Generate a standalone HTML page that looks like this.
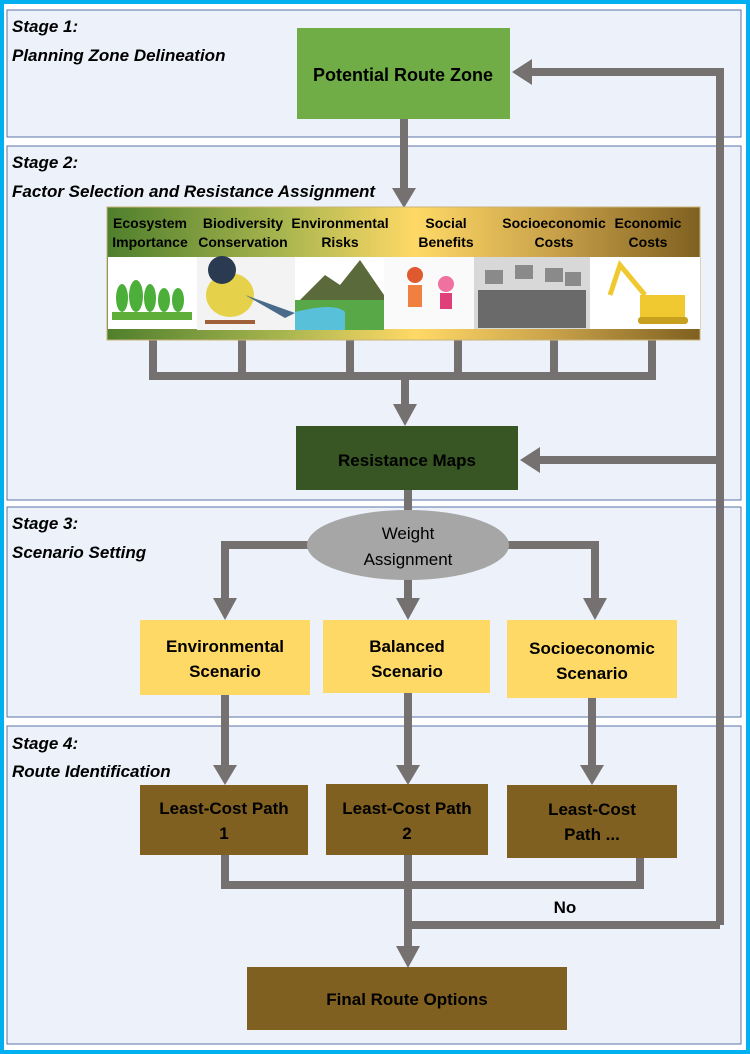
<!DOCTYPE html>
<html><head><meta charset="utf-8"><style>
html,body{margin:0;padding:0;background:#00b0f0;}
svg{display:block}
text{font-family:"Liberation Sans",sans-serif;font-weight:bold;fill:#000}
.st{font-style:italic;font-size:17px}
</style></head><body>
<svg width="750" height="1054" viewBox="0 0 750 1054" xmlns="http://www.w3.org/2000/svg">
<defs>
<linearGradient id="g" x1="0" x2="1" y1="0" y2="0">
<stop offset="0" stop-color="#4f7f2c"/><stop offset="0.3" stop-color="#a9b64f"/>
<stop offset="0.52" stop-color="#ffd966"/><stop offset="0.75" stop-color="#c9a24a"/>
<stop offset="1" stop-color="#7f6020"/></linearGradient>
</defs>
<rect x="0" y="0" width="750" height="1054" fill="#00b0f0"/>
<rect x="4" y="4" width="742" height="1046" fill="#ffffff"/>
<g fill="#edf2fa" stroke="#5a72a8" stroke-width="1">
<rect x="7" y="10" width="734" height="127"/>
<rect x="7" y="146" width="734" height="354"/>
<rect x="7" y="507" width="734" height="210"/>
<rect x="7" y="726" width="734" height="318"/>
</g>
<text class="st" x="12" y="32">Stage 1:</text>
<text class="st" x="12" y="61">Planning Zone Delineation</text>
<text class="st" x="12" y="168">Stage 2:</text>
<text class="st" x="12" y="197">Factor Selection and Resistance Assignment</text>
<text class="st" x="12" y="529">Stage 3:</text>
<text class="st" x="12" y="558">Scenario Setting</text>
<text class="st" x="12" y="749">Stage 4:</text>
<text class="st" x="12" y="777">Route Identification</text>

<g stroke="#767171" stroke-width="8" fill="none">
<path d="M404 119V190"/>
<path d="M720 925V72H530"/>
<path d="M720 460H538"/>
<path d="M153 340V376M242 340V376M350 340V376M458 340V376M554 340V376M652 340V376M149 376H656M405 376V410"/>
<path d="M408 490V512"/>
<path d="M225 610V545H595V602M408 545V602"/>
<path d="M225 695V768M408 693V768M592 698V768"/>
<path d="M225 855V885H640V857M408 855V950M408 925H720"/>
</g>
<g fill="#767171">
<path d="M392 188h24l-12 20z"/>
<path d="M512 72l20-13v26z"/>
<path d="M520 460l20-13v26z"/>
<path d="M393 404h24l-12 22z"/>
<path d="M213 598h24l-12 22z"/>
<path d="M396 598h24l-12 22z"/>
<path d="M583 598h24l-12 22z"/>
<path d="M213 765h24l-12 20z"/>
<path d="M396 765h24l-12 20z"/>
<path d="M580 765h24l-12 20z"/>
<path d="M396 946h24l-12 22z"/>
</g>

<rect x="297" y="28" width="213" height="91" fill="#70ad47"/>
<text x="403" y="81" font-size="18" text-anchor="middle">Potential Route Zone</text>

<rect x="107" y="207" width="593" height="133" fill="url(#g)" stroke="#c9b27a"/>
<g font-size="14" text-anchor="middle">
<text x="150" y="228">Ecosystem</text><text x="150" y="247">Importance</text>
<text x="243" y="228">Biodiversity</text><text x="243" y="247">Conservation</text>
<text x="340" y="228">Environmental</text><text x="340" y="247">Risks</text>
<text x="446" y="228">Social</text><text x="446" y="247">Benefits</text>
<text x="554" y="228">Socioeconomic</text><text x="554" y="247">Costs</text>
<text x="648" y="228">Economic</text><text x="648" y="247">Costs</text>
</g>
<rect x="108" y="257" width="89" height="72" fill="#fff"/>
<rect x="112" y="312" width="80" height="8" fill="#5fae3a"/>
<g fill="#4caf3a"><ellipse cx="122" cy="298" rx="6" ry="14"/><ellipse cx="136" cy="296" rx="7" ry="16"/><ellipse cx="150" cy="298" rx="6" ry="14"/><ellipse cx="164" cy="300" rx="6" ry="12"/><ellipse cx="178" cy="300" rx="6" ry="12"/></g>
<rect x="197" y="257" width="98" height="73" fill="#f3f3f3"/>
<ellipse cx="230" cy="295" rx="24" ry="22" fill="#e6d24a"/>
<circle cx="222" cy="270" r="14" fill="#2a3a50"/>
<path d="M245 295l50 18-10 5z" fill="#4a6a8a"/>
<path d="M205 322h50" stroke="#a0603a" stroke-width="4"/>
<rect x="295" y="257" width="89" height="73" fill="#fff"/>
<path d="M295 305l30-30 15 10 20-25 24 35v35h-89z" fill="#5a6a3a"/>
<path d="M295 300h89v30h-89z" fill="#58a848"/>
<path d="M295 312q40-10 50 0v18h-50z" fill="#58c0d8"/>
<rect x="384" y="257" width="90" height="72" fill="#fafafa"/>
<rect x="408" y="285" width="14" height="22" fill="#f08040"/><circle cx="415" cy="275" r="8" fill="#e05a30"/>
<rect x="440" y="293" width="12" height="16" fill="#e0407a"/><circle cx="446" cy="284" r="8" fill="#f070a0"/>
<rect x="476" y="285" width="20" height="20" fill="#4a90d0"/><rect x="478" y="305" width="16" height="20" fill="#1a3a80"/><circle cx="486" cy="273" r="9" fill="#f5c8a0"/>
<rect x="474" y="257" width="116" height="72" fill="#d8d8d8"/>
<rect x="478" y="290" width="108" height="38" fill="#6a6a6a"/>
<g fill="#8a8a8a"><rect x="485" y="270" width="18" height="14"/><rect x="515" y="265" width="18" height="14"/><rect x="545" y="268" width="18" height="14"/><rect x="565" y="272" width="16" height="14"/></g>
<rect x="590" y="257" width="110" height="72" fill="#fff"/>
<rect x="640" y="295" width="45" height="22" fill="#f0c830"/>
<path d="M645 295l-25-30-10 30" stroke="#f0c830" stroke-width="5" fill="none"/>
<rect x="638" y="317" width="50" height="7" rx="3" fill="#c8a020"/>

<rect x="296" y="426" width="222" height="64" fill="#375623"/>
<text x="407" y="466" font-size="17" text-anchor="middle">Resistance  Maps</text>

<ellipse cx="408" cy="545" rx="101" ry="35" fill="#a6a6a6"/>
<text x="408" y="539" text-anchor="middle" style="font-weight:normal;font-size:17px">Weight</text>
<text x="408" y="565" text-anchor="middle" style="font-weight:normal;font-size:17px">Assignment</text>

<g fill="#ffd966">
<rect x="140" y="620" width="170" height="75"/>
<rect x="323" y="620" width="167" height="73"/>
<rect x="507" y="620" width="170" height="78"/>
</g>
<g font-size="17" text-anchor="middle">
<text x="225" y="652">Environmental</text><text x="225" y="677">Scenario</text>
<text x="407" y="652">Balanced</text><text x="407" y="677">Scenario</text>
<text x="592" y="654">Socioeconomic</text><text x="592" y="679">Scenario</text>
</g>

<g fill="#7f6020">
<rect x="140" y="785" width="168" height="70"/>
<rect x="326" y="784" width="162" height="71"/>
<rect x="507" y="785" width="170" height="73"/>
<rect x="247" y="967" width="320" height="63"/>
</g>
<g font-size="17" text-anchor="middle">
<text x="224" y="814">Least-Cost Path</text><text x="224" y="839">1</text>
<text x="407" y="814">Least-Cost Path</text><text x="407" y="839">2</text>
<text x="592" y="815">Least-Cost</text><text x="592" y="840">Path ...</text>
<text x="407" y="1005">Final Route Options</text>
<text x="565" y="913">No</text>
</g>
</svg>
</body></html>
